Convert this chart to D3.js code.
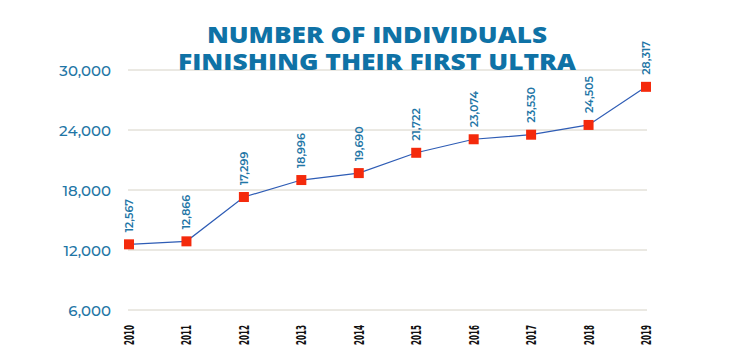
<!DOCTYPE html>
<html><head><meta charset="utf-8">
<script src="https://cdn.jsdelivr.net/npm/d3@7"></script>
<style>body{margin:0;background:#fff}svg{display:block}</style>
</head><body>
<script>
const years = ["2010","2011","2012","2013","2014","2015","2016","2017","2018","2019"];
const finishers = [12567,12866,17299,18996,19690,21722,23074,23530,24505,28317];
const valueLabels = ["12,567","12,866","17,299","18,996","19,690","21,722","23,074","23,530","24,505","28,317"];
const yTicks = [6000,12000,18000,24000,30000];
const titleLines = ["NUMBER OF INDIVIDUALS","FINISHING THEIR FIRST ULTRA"];
const titleWidths = [340,398];

const W=733,H=361;
const svg=d3.select("body").append("svg").attr("width",W).attr("height",H);
const x=d3.scalePoint().domain(years).range([129,646]);
const y=d3.scaleLinear().domain([6000,30000]).range([310,70]);

// grid
svg.append("g").selectAll("line").data(yTicks).join("line")
  .attr("x1",128).attr("x2",647).attr("y1",d=>y(d)).attr("y2",d=>y(d))
  .attr("stroke","#d6d2c6").attr("stroke-width",1);

// y axis labels
const yAxis=d3.axisLeft(y).tickValues(yTicks).tickFormat(d3.format(",")).tickSize(0).tickPadding(0);
const ga=svg.append("g").attr("transform","translate(111,0)").call(yAxis);
ga.select(".domain").remove();
ga.selectAll("text").attr("font-family","Montserrat, 'Open Sans', sans-serif").attr("font-size",15)
  .attr("font-weight",500).attr("fill","#1f76a6").attr("dy","0.35em");

// x labels
const gx=svg.append("g").attr("transform","translate(0,316)");
gx.selectAll("text").data(years).join("text")
  .attr("transform",d=>`translate(${x(d)+5},0) rotate(-90)`)
  .attr("text-anchor","end").attr("font-family","'Liberation Sans Narrow','DejaVu Sans Condensed',sans-serif")
  .attr("font-weight","bold").attr("font-size",14).attr("fill","#111")
  .attr("textLength",20).attr("lengthAdjust","spacingAndGlyphs")
  .attr("x",-9).text(d=>d);

// title
svg.append("g").selectAll("text").data(titleLines).join("text")
  .attr("x",377).attr("y",(d,i)=>43+i*27).attr("text-anchor","middle")
  .attr("font-family","'Open Sans',sans-serif").attr("font-weight",800).attr("font-size",22.5)
  .attr("textLength",(d,i)=>titleWidths[i]).attr("lengthAdjust","spacingAndGlyphs")
  .attr("fill","#0f72a6").text(d=>d);

// line
const line=d3.line().x((d,i)=>x(years[i])).y(d=>y(d));
svg.append("path").datum(finishers).attr("d",line).attr("fill","none")
  .attr("stroke","#2e5cb5").attr("stroke-width",1.2);

// markers
svg.append("g").selectAll("rect").data(finishers).join("rect")
  .attr("x",(d,i)=>x(years[i])-5).attr("y",d=>y(d)-5).attr("width",10).attr("height",10)
  .attr("fill","#f42a0c");

// value labels
svg.append("g").selectAll("text").data(finishers).join("text")
  .attr("transform",(d,i)=>`translate(${x(years[i])+4},${y(d)-12}) rotate(-90)`)
  .attr("font-family","Montserrat,'Open Sans',sans-serif").attr("font-size",11).attr("font-weight",600)
  .attr("fill","#1f76a6").text((d,i)=>valueLabels[i]);
</script>
</body></html>
